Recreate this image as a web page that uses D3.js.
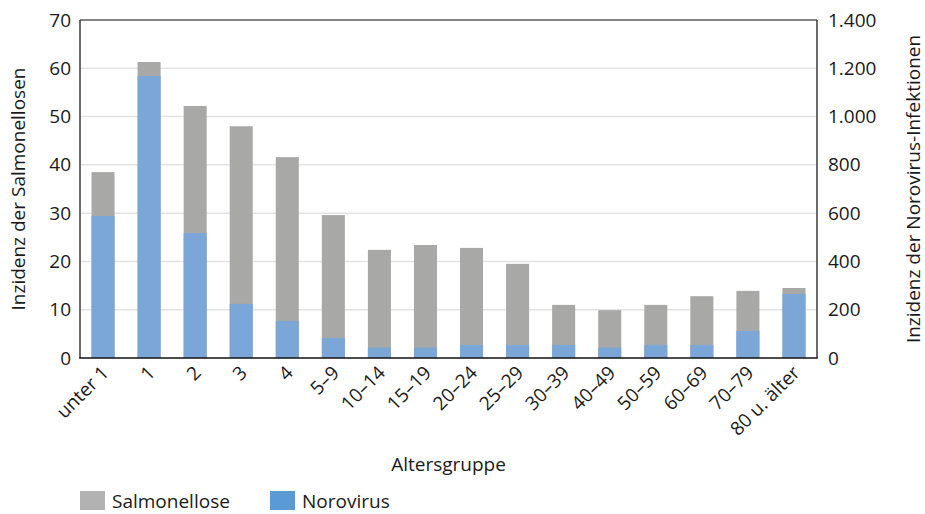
<!DOCTYPE html>
<html><head><meta charset="utf-8">
<script src="https://cdn.jsdelivr.net/npm/d3@7"></script>
<style>body{margin:0;background:#fff}svg{display:block}text{font-family:"Open Sans","Noto Sans",sans-serif;fill:#1a1a1a}</style>
</head><body>
<svg id="c" width="925" height="514"></svg>
<script>
const categories = ["unter 1","1","2","3","4","5–9","10–14","15–19","20–24","25–29","30–39","40–49","50–59","60–69","70–79","80 u. älter"];
const salmonellose = [38.5,61.3,52.2,48.0,41.6,29.6,22.4,23.4,22.8,19.5,11.0,9.9,11.0,12.8,13.9,14.5];
const norovirus = [588,1168,517,224,153,83,43,43,54,54,54,43,54,54,112,265];
const leftTicks = [0,10,20,30,40,50,60,70];
const rightTicks = [0,200,400,600,800,1000,1200,1400];

const FS = "19px";
const svg = d3.select("#c");
const L=80, R=817, T=20, B=358;
const x = d3.scaleBand().domain(categories).range([L,R]).paddingInner(0.5).paddingOuter(0.25);
const yL = d3.scaleLinear().domain([0,70]).range([B,T]);
const yR = d3.scaleLinear().domain([0,1400]).range([B,T]);
const fmt = d3.formatLocale({decimal:",",thousands:".",grouping:[3],currency:["","€"]}).format(",d");

// grid
svg.append("g").selectAll("line").data(leftTicks.filter(d=>d>0&&d<70)).join("line")
  .attr("x1",L).attr("x2",R).attr("y1",d=>yL(d)).attr("y2",d=>yL(d))
  .attr("stroke","#e3e3e3").attr("stroke-width",1.5);

// bars
svg.append("g").selectAll("rect").data(categories).join("rect")
  .attr("x",d=>x(d)).attr("width",x.bandwidth())
  .attr("y",(d,i)=>yL(salmonellose[i])).attr("height",(d,i)=>B-yL(salmonellose[i]))
  .attr("fill","#a8a8a7");
svg.append("g").selectAll("rect").data(categories).join("rect")
  .attr("x",d=>x(d)).attr("width",x.bandwidth())
  .attr("y",(d,i)=>yR(norovirus[i])).attr("height",(d,i)=>B-yR(norovirus[i]))
  .attr("fill","#7ba7d8");

// frame
svg.append("line").attr("x1",L).attr("x2",R).attr("y1",T).attr("y2",T).attr("stroke","#5a5a5a").attr("stroke-width",1.5);
svg.append("line").attr("x1",R).attr("x2",R).attr("y1",T).attr("y2",B).attr("stroke","#3a3a3a").attr("stroke-width",1.5);
svg.append("line").attr("x1",L).attr("x2",L).attr("y1",T).attr("y2",B).attr("stroke","#3a3a3a").attr("stroke-width",1.5);
svg.append("line").attr("x1",L-0.75).attr("x2",R+0.75).attr("y1",B).attr("y2",B).attr("stroke","#111").attr("stroke-width",1.5);

// left axis
const la = svg.append("g").attr("transform",`translate(${L},0)`)
  .call(d3.axisLeft(yL).tickValues(leftTicks).tickSize(0).tickPadding(9));
la.select(".domain").remove();
la.selectAll("text").style("font-size",FS).style("font-family","'Open Sans',sans-serif").attr("fill","#1a1a1a");

// right axis
const ra = svg.append("g").attr("transform",`translate(${R},0)`)
  .call(d3.axisRight(yR).tickValues(rightTicks).tickFormat(fmt).tickSize(0).tickPadding(11));
ra.select(".domain").remove();
ra.selectAll("text").style("font-size",FS).style("font-family","'Open Sans',sans-serif").attr("fill","#1a1a1a");

// x axis
const xa = svg.append("g").attr("transform",`translate(0,${B})`)
  .call(d3.axisBottom(x).tickSize(0).tickPadding(0));
xa.select(".domain").remove();
xa.selectAll("text").style("font-size",FS).style("font-family","'Open Sans',sans-serif").attr("fill","#1a1a1a")
  .attr("text-anchor","end").attr("dy",null).attr("y",0)
  .attr("transform","translate(7,16) rotate(-45)");

// axis titles
svg.append("text").attr("transform",`translate(25,${(T+B)/2}) rotate(-90)`).attr("text-anchor","middle")
  .style("font-size",FS).text("Inzidenz der Salmonellosen");
svg.append("text").attr("transform",`translate(920,${(T+B)/2}) rotate(-90)`).attr("text-anchor","middle")
  .style("font-size",FS).text("Inzidenz der Norovirus-Infektionen");
svg.append("text").attr("x",(L+R)/2).attr("y",471).attr("text-anchor","middle")
  .style("font-size",FS).text("Altersgruppe");

// legend
const leg = [{n:"Salmonellose",c:"#b2b2b2",x:80},{n:"Norovirus",c:"#5b9bd5",x:270}];
const lg = svg.append("g").selectAll("g").data(leg).join("g").attr("transform",d=>`translate(${d.x},491)`);
lg.append("rect").attr("width",25).attr("height",19).attr("fill",d=>d.c);
lg.append("text").attr("x",32).attr("y",17).style("font-size",FS).text(d=>d.n);
</script>
</body></html>
